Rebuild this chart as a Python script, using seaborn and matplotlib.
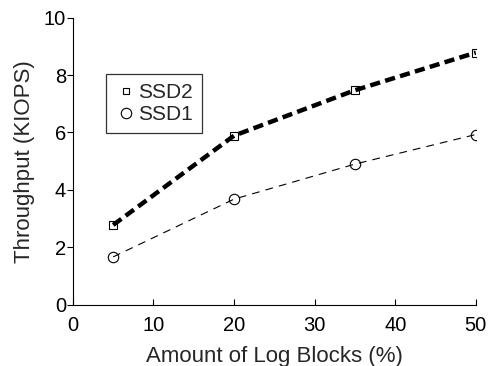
import matplotlib
matplotlib.use("Agg")
import matplotlib.pyplot as plt
from matplotlib.lines import Line2D
import seaborn as sns
import pandas as pd

x_vals = [5, 20, 35, 50]
ssd2 = [2.78, 5.89, 7.47, 8.78]
ssd1 = [1.67, 3.68, 4.90, 5.93]

sns.set_style("white")
plt.rcParams['font.family'] = ['Liberation Sans', 'DejaVu Sans']

fig = plt.figure(figsize=(4.89, 3.66), dpi=100)
ax = fig.add_axes([0.149, 0.167, 0.824, 0.785])

df2 = pd.DataFrame({"x": x_vals, "y": ssd2})
df1 = pd.DataFrame({"x": x_vals, "y": ssd1})

sns.lineplot(data=df1, x="x", y="y", ax=ax, color="black", lw=0.8,
             marker="o", markersize=7.5, markerfacecolor="none",
             markeredgecolor="black", markeredgewidth=0.8)
sns.lineplot(data=df2, x="x", y="y", ax=ax, color="black", lw=3.2,
             marker="s", markersize=6, markerfacecolor="none",
             markeredgecolor="black", markeredgewidth=0.8)
lines = ax.get_lines()
lines[0].set_dashes([7, 5.5])
lines[1].set_dashes([2.3, 1.2])

ax.set_xlim(0, 50)
ax.set_ylim(0, 10)
ax.set_xticks([0, 10, 20, 30, 40, 50])
ax.set_yticks([0, 2, 4, 6, 8, 10])
ax.set_xlabel("Amount of Log Blocks (%)", fontsize=16, labelpad=8)
ax.set_ylabel("Throughput (KIOPS)", fontsize=16, labelpad=6)
ax.tick_params(axis='both', labelsize=14.5, colors='black')
ax.tick_params(axis='y', direction='out', length=4, width=0.8, left=True, pad=1)
ax.tick_params(axis='x', direction='in', length=4, width=0.8, bottom=True, pad=8)
for s in ['top', 'right']:
    ax.spines[s].set_visible(False)
for s in ['left', 'bottom']:
    ax.spines[s].set_color('black')
    ax.spines[s].set_linewidth(0.8)

handles = [
    Line2D([], [], linestyle='none', marker='s', markersize=5,
           markerfacecolor='white', markeredgecolor='black', markeredgewidth=0.8),
    Line2D([], [], linestyle='none', marker='o', markersize=7.5,
           markerfacecolor='white', markeredgecolor='black', markeredgewidth=0.8),
]
leg = ax.legend(handles, ["SSD2", "SSD1"], loc='upper left',
                bbox_to_anchor=(0.082, 0.805), fontsize=15, frameon=True,
                fancybox=False, edgecolor='black', handlelength=1.0,
                handletextpad=0.1, borderpad=0.45, labelspacing=0.15,
                borderaxespad=0)
leg.get_frame().set_linewidth(0.9)

fig.savefig("out.png", dpi=100)
